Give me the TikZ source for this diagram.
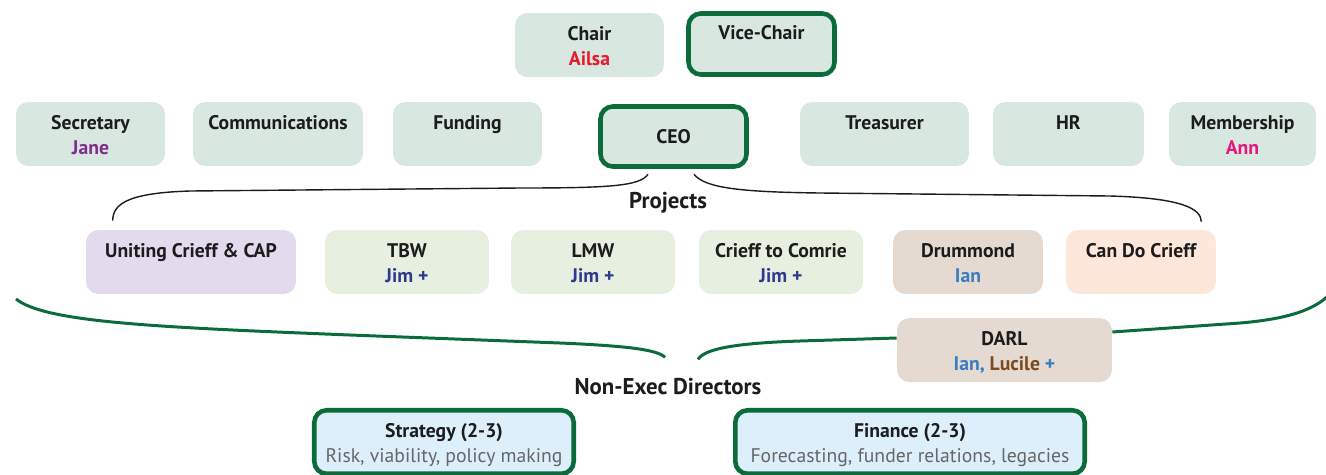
\documentclass[tikz,border=0pt]{standalone}
\usepackage{fontspec}
\setmainfont{PT Sans}
\usetikzlibrary{calc}
\definecolor{postfill}{HTML}{D8E7E0}
\definecolor{leadgreen}{HTML}{0B6B3A}
\definecolor{ink}{HTML}{1C1C1C}
\definecolor{unitefill}{HTML}{E4DAEE}
\definecolor{projfill}{HTML}{E6EFE0}
\definecolor{drumfill}{HTML}{E4DAD1}
\definecolor{candofill}{HTML}{FDE6DA}
\definecolor{nedfill}{HTML}{DDEFFB}
\definecolor{ailsa}{HTML}{E8192C}
\definecolor{jane}{HTML}{7E2F8E}
\definecolor{ann}{HTML}{E5157E}
\definecolor{jim}{HTML}{2F3A8E}
\definecolor{ian}{HTML}{3A7CC0}
\definecolor{lucile}{HTML}{7B4A1F}
\definecolor{remit}{HTML}{666666}
\newcommand\topstrut{\rule{0pt}{13.6pt}}
\tikzset{
    post/.style={rounded corners=7pt, fill=postfill, text=ink, align=center, inner sep=0pt,
        minimum width=2.98cm, minimum height=1.28cm, font=\bfseries\fontsize{11.2}{14}\selectfont},
    lead/.style={post, draw=leadgreen, line width=2.6pt},
    head/.style={text=ink, inner sep=0pt, font=\bfseries\fontsize{13}{15}\selectfont},
}
\begin{document}
\begin{tikzpicture}[x=0.02cm, y=-0.02cm]
    \useasboundingbox (0,0) rectangle (1326,474);
    \node[post] (chair) at (589.5,45) {\topstrut Chair\\\strut\textcolor{ailsa}{Ailsa}};
    \node[lead, minimum width=2.92cm, minimum height=1.22cm] (vice) at (761.5,44) {\topstrut Vice-Chair\\\strut};
    \node[post] (secretary) at (90.5,134) {\topstrut Secretary\\\strut\textcolor{jane}{Jane}};
    \node[post, minimum width=3.4cm] (comms) at (278,134) {\topstrut Communications\\\strut};
    \node[post] (funding) at (467.5,134) {\topstrut Funding\\\strut};
    \node[lead, minimum width=2.92cm, minimum height=1.2cm] (ceo) at (673.5,136.5) {CEO};
    \node[post, minimum width=3.38cm] (treasurer) at (884.5,134) {\topstrut Treasurer\\\strut};
    \node[post, minimum width=3.02cm] (hr) at (1068.5,134) {\topstrut HR\\\strut};
    \node[post, minimum width=2.94cm] (membership) at (1242.5,134) {\topstrut Membership\\\strut\textcolor{ann}{Ann}};
    \node[head] (projects) at (668,203) {Projects};
    \node[post, fill=unitefill, minimum width=4.2cm] (uniting) at (191,262) {\topstrut Uniting Crieff \& CAP\\\strut};
    \node[post, fill=projfill, minimum width=3.28cm] (tbw) at (407,262) {\topstrut TBW\\\strut\textcolor{jim}{Jim +}};
    \node[post, fill=projfill, minimum width=3.28cm] (lmw) at (593,262) {\topstrut LMW\\\strut\textcolor{jim}{Jim +}};
    \node[post, fill=projfill, minimum width=3.28cm] (comrie) at (781,262) {\topstrut Crieff to Comrie\\\strut\textcolor{jim}{Jim +}};
    \node[post, fill=drumfill, minimum width=3cm] (drummond) at (968,262) {\topstrut Drummond\\\strut\textcolor{ian}{Ian}};
    \node[post, fill=candofill, minimum width=3cm] (cando) at (1141,262) {\topstrut Can Do Crieff\\\strut};
    \node[post, fill=drumfill, minimum width=4.3cm] (darl) at (1004.5,350) {\topstrut DARL\\\strut\textcolor{ian}{Ian,} \textcolor{lucile}{Lucile} \textcolor{ian}{+}};
    \node[head] (nonexec) at (668,387) {Non-Exec Directors};
    \node[lead, fill=nedfill, minimum width=5.19cm, minimum height=1.27cm] (strategy) at (444,442)
        {\topstrut Strategy (2-3)\\\strut\textcolor{remit}{\mdseries Risk, viability, policy making}};
    \node[lead, fill=nedfill, minimum width=6.99cm, minimum height=1.27cm] (finance) at (910,442)
        {\topstrut Finance (2-3)\\\strut\textcolor{remit}{\mdseries Forecasting, funder relations, legacies}};
    \coordinate (gl) at (16,299);
    \coordinate (gr) at (1332,292);
    \draw[ink, line width=0.8pt] ($(ceo.south)+(-25.5,5.5)$) .. controls (640,186) and (610,188) .. (520,188)
        -- (190,191) .. controls (125,193) and (113,205) .. ($(uniting.north west)+(27,-9)$);
    \draw[ink, line width=0.8pt] ($(ceo.south)+(20.5,5.5)$) .. controls (705,188) and (740,192) .. (820,193)
        -- (1110,196) .. controls (1180,198) and (1201,208) .. ($(cando.north east)+(-15,-8)$);
    \draw[leadgreen, line width=1.7pt] (gl) .. controls (45,322) and (150,327) .. (350,335)
        -- (560,343) .. controls (630,346) and (658,350) .. ($(nonexec.north)+(-3,-21)$);
    \draw[leadgreen, line width=1.7pt] ($(nonexec.north)+(30,-19)$) .. controls (705,348) and (740,343) .. (800,341)
        -- ($(darl.west)+(0,-12)$);
    \draw[leadgreen, line width=1.7pt] ($(darl.east)+(0,-18)$) -- (1240,323)
        .. controls (1300,318) and (1320,305) .. (gr);
\end{tikzpicture}
\end{document}
